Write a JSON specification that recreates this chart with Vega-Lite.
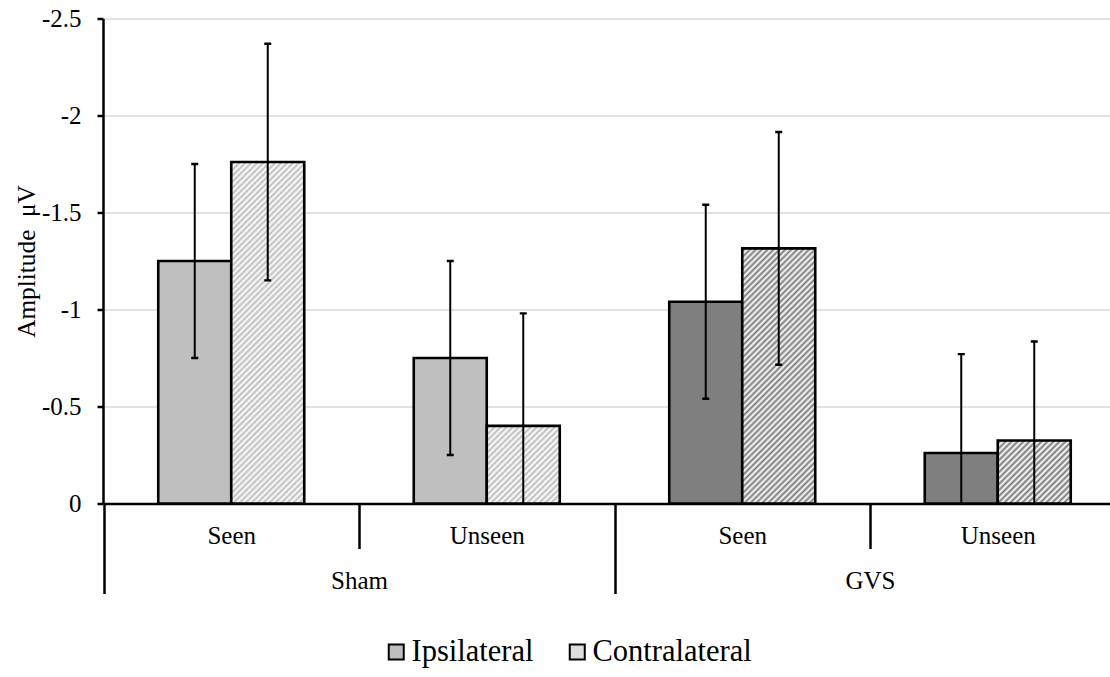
{
  "$schema": "https://vega.github.io/schema/vega-lite/v6.json",
  "width": 1007,
  "height": 485,
  "autosize": {"type": "none"},
  "padding": {"left": 103, "top": 18.5, "right": 0, "bottom": 173.5},
  "background": "white",
  "config": {
    "view": {"stroke": null},
    "font": "Liberation Serif, Times New Roman, serif",
    "axis": {"labelFont": "Liberation Serif, Times New Roman, serif", "titleFont": "Liberation Serif, Times New Roman, serif", "labelFontSize": 25, "labelColor": "black", "titleColor": "black", "titleFontWeight": "normal", "domainColor": "black", "domainWidth": 2.5, "tickColor": "black", "tickWidth": 2.5, "gridColor": "#d9d9d9", "gridWidth": 1.3},
    "axisX": {"grid": false, "labelAngle": 0, "tickBand": "extent", "tickSize": 45, "labelBaseline": "alphabetic", "labelPadding": -5.5},
    "axisY": {"tickSize": 6, "labelPadding": 16, "titleFontSize": 25.3, "titlePadding": 2}
  },
  "data": {"values": [
    {"group": "Sham", "cond": "Seen", "cell": "Sham Seen", "side": "Ipsilateral", "value": -1.25, "lo": -0.75, "hi": -1.75},
    {"group": "Sham", "cond": "Seen", "cell": "Sham Seen", "side": "Contralateral", "value": -1.76, "lo": -1.15, "hi": -2.37},
    {"group": "Sham", "cond": "Unseen", "cell": "Sham Unseen", "side": "Ipsilateral", "value": -0.75, "lo": -0.25, "hi": -1.25},
    {"group": "Sham", "cond": "Unseen", "cell": "Sham Unseen", "side": "Contralateral", "value": -0.4, "lo": 0.18, "hi": -0.98},
    {"group": "GVS", "cond": "Seen", "cell": "GVS Seen", "side": "Ipsilateral", "value": -1.04, "lo": -0.54, "hi": -1.54},
    {"group": "GVS", "cond": "Seen", "cell": "GVS Seen", "side": "Contralateral", "value": -1.315, "lo": -0.715, "hi": -1.915},
    {"group": "GVS", "cond": "Unseen", "cell": "GVS Unseen", "side": "Ipsilateral", "value": -0.26, "lo": 0.25, "hi": -0.77},
    {"group": "GVS", "cond": "Unseen", "cell": "GVS Unseen", "side": "Contralateral", "value": -0.325, "lo": 0.185, "hi": -0.835}
  ]},
  "layer": [
    {
      "encoding": {
        "x": {"field": "cell", "type": "nominal", "sort": ["Sham Seen", "Sham Unseen", "GVS Seen", "GVS Unseen"], "scale": {"range": [0.5, 1022.5], "paddingInner": 0, "paddingOuter": 0}, "axis": {"orient": "bottom", "title": null, "labelExpr": "datum.label ? (indexof(datum.label, 'Unseen') >= 0 ? 'Unseen' : 'Seen') : ''"}},
        "xOffset": {"field": "side", "type": "nominal", "sort": ["Ipsilateral", "Contralateral"], "scale": {"paddingInner": 0, "paddingOuter": 0.75}}
      },
      "layer": [
        {
          "mark": {"type": "bar", "stroke": "black", "strokeWidth": 2.6},
          "encoding": {
            "y": {"field": "value", "type": "quantitative", "title": "Amplitude\u00a0 μV", "scale": {"domain": [-2.5, 0], "reverse": true, "nice": false}, "axis": {"values": [-2.5, -2, -1.5, -1, -0.5, 0], "labelExpr": "toString(datum.value)"}},
            "fill": {
              "field": "side", "type": "nominal",
              "scale": {"domain": ["Ipsilateral", "Contralateral"], "range": ["#bfbfbf", "#dedede"]},
              "legend": {
                "orient": "none", "legendX": 278, "legendY": 618, "direction": "horizontal", "title": null,
                "symbolType": "square", "symbolSize": 225, "symbolStrokeColor": "black", "symbolStrokeWidth": 2, "symbolOpacity": 1,
                "labelFont": "Liberation Serif, Times New Roman, serif", "labelFontSize": 30.5, "labelColor": "black", "labelOffset": 0, "columnPadding": 28, "padding": 0, "labelLimit": 400,
                "encode": {"symbols": {"update": {
                  "stroke": {"value": "black"},
                  "strokeWidth": {"value": 2},
                  "fill": [
                    {"test": "datum.value === 'Contralateral'", "value": {"gradient": "linear", "x1": 0, "y1": 0, "x2": 1, "y2": 1, "stops": [{"offset":0,"color":"#fff"},{"offset":0.1,"color":"#bcbcbc"},{"offset":0.2,"color":"#fff"},{"offset":0.3,"color":"#bcbcbc"},{"offset":0.4,"color":"#fff"},{"offset":0.5,"color":"#bcbcbc"},{"offset":0.6,"color":"#fff"},{"offset":0.7,"color":"#bcbcbc"},{"offset":0.8,"color":"#fff"},{"offset":0.9,"color":"#bcbcbc"},{"offset":1,"color":"#fff"}]}},
                    {"value": "#bfbfbf"}
                  ]
                }}}
              },
              "condition": [
                {"test": "datum.side === 'Ipsilateral' && datum.group === 'GVS'", "value": "#7f7f7f"},
                {"test": "datum.cell === 'Sham Seen' && datum.side === 'Contralateral'", "value": {"gradient": "linear", "x1": 0, "y1": 0, "x2": 0.24817, "y2": 1.16075, "stops": [{"offset":0,"color":"#fff"},{"offset":0.0072,"color":"#bcbcbc"},{"offset":0.0144,"color":"#fff"},{"offset":0.0216,"color":"#bcbcbc"},{"offset":0.0288,"color":"#fff"},{"offset":0.036,"color":"#bcbcbc"},{"offset":0.0432,"color":"#fff"},{"offset":0.0504,"color":"#bcbcbc"},{"offset":0.0576,"color":"#fff"},{"offset":0.0648,"color":"#bcbcbc"},{"offset":0.072,"color":"#fff"},{"offset":0.0792,"color":"#bcbcbc"},{"offset":0.0864,"color":"#fff"},{"offset":0.0936,"color":"#bcbcbc"},{"offset":0.1008,"color":"#fff"},{"offset":0.108,"color":"#bcbcbc"},{"offset":0.1152,"color":"#fff"},{"offset":0.1224,"color":"#bcbcbc"},{"offset":0.1296,"color":"#fff"},{"offset":0.1368,"color":"#bcbcbc"},{"offset":0.144,"color":"#fff"},{"offset":0.1512,"color":"#bcbcbc"},{"offset":0.1584,"color":"#fff"},{"offset":0.1656,"color":"#bcbcbc"},{"offset":0.1728,"color":"#fff"},{"offset":0.18,"color":"#bcbcbc"},{"offset":0.1872,"color":"#fff"},{"offset":0.1944,"color":"#bcbcbc"},{"offset":0.2016,"color":"#fff"},{"offset":0.2088,"color":"#bcbcbc"},{"offset":0.216,"color":"#fff"},{"offset":0.2232,"color":"#bcbcbc"},{"offset":0.2304,"color":"#fff"},{"offset":0.2376,"color":"#bcbcbc"},{"offset":0.2448,"color":"#fff"},{"offset":0.252,"color":"#bcbcbc"},{"offset":0.2592,"color":"#fff"},{"offset":0.2664,"color":"#bcbcbc"},{"offset":0.2736,"color":"#fff"},{"offset":0.2808,"color":"#bcbcbc"},{"offset":0.288,"color":"#fff"},{"offset":0.2952,"color":"#bcbcbc"},{"offset":0.3024,"color":"#fff"},{"offset":0.3096,"color":"#bcbcbc"},{"offset":0.3168,"color":"#fff"},{"offset":0.324,"color":"#bcbcbc"},{"offset":0.3312,"color":"#fff"},{"offset":0.3384,"color":"#bcbcbc"},{"offset":0.3456,"color":"#fff"},{"offset":0.3528,"color":"#bcbcbc"},{"offset":0.36,"color":"#fff"},{"offset":0.3672,"color":"#bcbcbc"},{"offset":0.3744,"color":"#fff"},{"offset":0.3816,"color":"#bcbcbc"},{"offset":0.3888,"color":"#fff"},{"offset":0.396,"color":"#bcbcbc"},{"offset":0.4032,"color":"#fff"},{"offset":0.4104,"color":"#bcbcbc"},{"offset":0.4176,"color":"#fff"},{"offset":0.4248,"color":"#bcbcbc"},{"offset":0.432,"color":"#fff"},{"offset":0.4392,"color":"#bcbcbc"},{"offset":0.4464,"color":"#fff"},{"offset":0.4536,"color":"#bcbcbc"},{"offset":0.4608,"color":"#fff"},{"offset":0.468,"color":"#bcbcbc"},{"offset":0.4752,"color":"#fff"},{"offset":0.4824,"color":"#bcbcbc"},{"offset":0.4896,"color":"#fff"},{"offset":0.4968,"color":"#bcbcbc"},{"offset":0.504,"color":"#fff"},{"offset":0.5112,"color":"#bcbcbc"},{"offset":0.5184,"color":"#fff"},{"offset":0.5256,"color":"#bcbcbc"},{"offset":0.5328,"color":"#fff"},{"offset":0.54,"color":"#bcbcbc"},{"offset":0.5472,"color":"#fff"},{"offset":0.5544,"color":"#bcbcbc"},{"offset":0.5616,"color":"#fff"},{"offset":0.5688,"color":"#bcbcbc"},{"offset":0.576,"color":"#fff"},{"offset":0.5832,"color":"#bcbcbc"},{"offset":0.5904,"color":"#fff"},{"offset":0.5976,"color":"#bcbcbc"},{"offset":0.6048,"color":"#fff"},{"offset":0.612,"color":"#bcbcbc"},{"offset":0.6192,"color":"#fff"},{"offset":0.6264,"color":"#bcbcbc"},{"offset":0.6336,"color":"#fff"},{"offset":0.6408,"color":"#bcbcbc"},{"offset":0.648,"color":"#fff"},{"offset":0.6552,"color":"#bcbcbc"},{"offset":0.6624,"color":"#fff"},{"offset":0.6696,"color":"#bcbcbc"},{"offset":0.6768,"color":"#fff"},{"offset":0.684,"color":"#bcbcbc"},{"offset":0.6912,"color":"#fff"},{"offset":0.6984,"color":"#bcbcbc"},{"offset":0.7056,"color":"#fff"},{"offset":0.7128,"color":"#bcbcbc"},{"offset":0.72,"color":"#fff"},{"offset":0.7272,"color":"#bcbcbc"},{"offset":0.7344,"color":"#fff"},{"offset":0.7416,"color":"#bcbcbc"},{"offset":0.7488,"color":"#fff"},{"offset":0.756,"color":"#bcbcbc"},{"offset":0.7632,"color":"#fff"},{"offset":0.7704,"color":"#bcbcbc"},{"offset":0.7776,"color":"#fff"},{"offset":0.7848,"color":"#bcbcbc"},{"offset":0.792,"color":"#fff"},{"offset":0.7992,"color":"#bcbcbc"},{"offset":0.8064,"color":"#fff"},{"offset":0.8136,"color":"#bcbcbc"},{"offset":0.8208,"color":"#fff"},{"offset":0.828,"color":"#bcbcbc"},{"offset":0.8352,"color":"#fff"},{"offset":0.8424,"color":"#bcbcbc"},{"offset":0.8496,"color":"#fff"},{"offset":0.8568,"color":"#bcbcbc"},{"offset":0.864,"color":"#fff"},{"offset":0.8712,"color":"#bcbcbc"},{"offset":0.8784,"color":"#fff"},{"offset":0.8856,"color":"#bcbcbc"},{"offset":0.8928,"color":"#fff"},{"offset":0.9,"color":"#bcbcbc"},{"offset":0.9072,"color":"#fff"},{"offset":0.9144,"color":"#bcbcbc"},{"offset":0.9216,"color":"#fff"},{"offset":0.9288,"color":"#bcbcbc"},{"offset":0.936,"color":"#fff"},{"offset":0.9432,"color":"#bcbcbc"},{"offset":0.9504,"color":"#fff"},{"offset":0.9576,"color":"#bcbcbc"},{"offset":0.9648,"color":"#fff"},{"offset":0.972,"color":"#bcbcbc"},{"offset":0.9792,"color":"#fff"},{"offset":0.9864,"color":"#bcbcbc"},{"offset":0.9936,"color":"#fff"}]}},
                {"test": "datum.cell === 'Sham Unseen' && datum.side === 'Contralateral'", "value": {"gradient": "linear", "x1": 0, "y1": 0, "x2": 0.96856, "y2": 1.02958, "stops": [{"offset":0,"color":"#fff"},{"offset":0.02,"color":"#bcbcbc"},{"offset":0.04,"color":"#fff"},{"offset":0.06,"color":"#bcbcbc"},{"offset":0.08,"color":"#fff"},{"offset":0.1,"color":"#bcbcbc"},{"offset":0.12,"color":"#fff"},{"offset":0.14,"color":"#bcbcbc"},{"offset":0.16,"color":"#fff"},{"offset":0.18,"color":"#bcbcbc"},{"offset":0.2,"color":"#fff"},{"offset":0.22,"color":"#bcbcbc"},{"offset":0.24,"color":"#fff"},{"offset":0.26,"color":"#bcbcbc"},{"offset":0.28,"color":"#fff"},{"offset":0.3,"color":"#bcbcbc"},{"offset":0.32,"color":"#fff"},{"offset":0.34,"color":"#bcbcbc"},{"offset":0.36,"color":"#fff"},{"offset":0.38,"color":"#bcbcbc"},{"offset":0.4,"color":"#fff"},{"offset":0.42,"color":"#bcbcbc"},{"offset":0.44,"color":"#fff"},{"offset":0.46,"color":"#bcbcbc"},{"offset":0.48,"color":"#fff"},{"offset":0.5,"color":"#bcbcbc"},{"offset":0.52,"color":"#fff"},{"offset":0.54,"color":"#bcbcbc"},{"offset":0.56,"color":"#fff"},{"offset":0.58,"color":"#bcbcbc"},{"offset":0.6,"color":"#fff"},{"offset":0.62,"color":"#bcbcbc"},{"offset":0.64,"color":"#fff"},{"offset":0.66,"color":"#bcbcbc"},{"offset":0.68,"color":"#fff"},{"offset":0.7,"color":"#bcbcbc"},{"offset":0.72,"color":"#fff"},{"offset":0.74,"color":"#bcbcbc"},{"offset":0.76,"color":"#fff"},{"offset":0.78,"color":"#bcbcbc"},{"offset":0.8,"color":"#fff"},{"offset":0.82,"color":"#bcbcbc"},{"offset":0.84,"color":"#fff"},{"offset":0.86,"color":"#bcbcbc"},{"offset":0.88,"color":"#fff"},{"offset":0.9,"color":"#bcbcbc"},{"offset":0.92,"color":"#fff"},{"offset":0.94,"color":"#bcbcbc"},{"offset":0.96,"color":"#fff"},{"offset":0.98,"color":"#bcbcbc"},{"offset":1,"color":"#fff"}]}},
                {"test": "datum.cell === 'GVS Seen' && datum.side === 'Contralateral'", "value": {"gradient": "linear", "x1": 0, "y1": 0, "x2": 0.34018, "y2": 1.18884, "stops": [{"offset":0,"color":"#fff"},{"offset":0.009,"color":"#7a7a7a"},{"offset":0.018,"color":"#fff"},{"offset":0.027,"color":"#7a7a7a"},{"offset":0.036,"color":"#fff"},{"offset":0.045,"color":"#7a7a7a"},{"offset":0.054,"color":"#fff"},{"offset":0.063,"color":"#7a7a7a"},{"offset":0.072,"color":"#fff"},{"offset":0.081,"color":"#7a7a7a"},{"offset":0.09,"color":"#fff"},{"offset":0.099,"color":"#7a7a7a"},{"offset":0.108,"color":"#fff"},{"offset":0.117,"color":"#7a7a7a"},{"offset":0.126,"color":"#fff"},{"offset":0.135,"color":"#7a7a7a"},{"offset":0.144,"color":"#fff"},{"offset":0.153,"color":"#7a7a7a"},{"offset":0.162,"color":"#fff"},{"offset":0.171,"color":"#7a7a7a"},{"offset":0.18,"color":"#fff"},{"offset":0.189,"color":"#7a7a7a"},{"offset":0.198,"color":"#fff"},{"offset":0.207,"color":"#7a7a7a"},{"offset":0.216,"color":"#fff"},{"offset":0.225,"color":"#7a7a7a"},{"offset":0.234,"color":"#fff"},{"offset":0.243,"color":"#7a7a7a"},{"offset":0.252,"color":"#fff"},{"offset":0.261,"color":"#7a7a7a"},{"offset":0.27,"color":"#fff"},{"offset":0.279,"color":"#7a7a7a"},{"offset":0.288,"color":"#fff"},{"offset":0.297,"color":"#7a7a7a"},{"offset":0.306,"color":"#fff"},{"offset":0.315,"color":"#7a7a7a"},{"offset":0.324,"color":"#fff"},{"offset":0.333,"color":"#7a7a7a"},{"offset":0.342,"color":"#fff"},{"offset":0.351,"color":"#7a7a7a"},{"offset":0.36,"color":"#fff"},{"offset":0.369,"color":"#7a7a7a"},{"offset":0.378,"color":"#fff"},{"offset":0.387,"color":"#7a7a7a"},{"offset":0.396,"color":"#fff"},{"offset":0.405,"color":"#7a7a7a"},{"offset":0.414,"color":"#fff"},{"offset":0.423,"color":"#7a7a7a"},{"offset":0.432,"color":"#fff"},{"offset":0.441,"color":"#7a7a7a"},{"offset":0.45,"color":"#fff"},{"offset":0.459,"color":"#7a7a7a"},{"offset":0.468,"color":"#fff"},{"offset":0.477,"color":"#7a7a7a"},{"offset":0.486,"color":"#fff"},{"offset":0.495,"color":"#7a7a7a"},{"offset":0.504,"color":"#fff"},{"offset":0.513,"color":"#7a7a7a"},{"offset":0.522,"color":"#fff"},{"offset":0.531,"color":"#7a7a7a"},{"offset":0.54,"color":"#fff"},{"offset":0.549,"color":"#7a7a7a"},{"offset":0.558,"color":"#fff"},{"offset":0.567,"color":"#7a7a7a"},{"offset":0.576,"color":"#fff"},{"offset":0.585,"color":"#7a7a7a"},{"offset":0.594,"color":"#fff"},{"offset":0.603,"color":"#7a7a7a"},{"offset":0.612,"color":"#fff"},{"offset":0.621,"color":"#7a7a7a"},{"offset":0.63,"color":"#fff"},{"offset":0.639,"color":"#7a7a7a"},{"offset":0.648,"color":"#fff"},{"offset":0.657,"color":"#7a7a7a"},{"offset":0.666,"color":"#fff"},{"offset":0.675,"color":"#7a7a7a"},{"offset":0.684,"color":"#fff"},{"offset":0.693,"color":"#7a7a7a"},{"offset":0.702,"color":"#fff"},{"offset":0.711,"color":"#7a7a7a"},{"offset":0.72,"color":"#fff"},{"offset":0.729,"color":"#7a7a7a"},{"offset":0.738,"color":"#fff"},{"offset":0.747,"color":"#7a7a7a"},{"offset":0.756,"color":"#fff"},{"offset":0.765,"color":"#7a7a7a"},{"offset":0.774,"color":"#fff"},{"offset":0.783,"color":"#7a7a7a"},{"offset":0.792,"color":"#fff"},{"offset":0.801,"color":"#7a7a7a"},{"offset":0.81,"color":"#fff"},{"offset":0.819,"color":"#7a7a7a"},{"offset":0.828,"color":"#fff"},{"offset":0.837,"color":"#7a7a7a"},{"offset":0.846,"color":"#fff"},{"offset":0.855,"color":"#7a7a7a"},{"offset":0.864,"color":"#fff"},{"offset":0.873,"color":"#7a7a7a"},{"offset":0.882,"color":"#fff"},{"offset":0.891,"color":"#7a7a7a"},{"offset":0.9,"color":"#fff"},{"offset":0.909,"color":"#7a7a7a"},{"offset":0.918,"color":"#fff"},{"offset":0.927,"color":"#7a7a7a"},{"offset":0.936,"color":"#fff"},{"offset":0.945,"color":"#7a7a7a"},{"offset":0.954,"color":"#fff"},{"offset":0.963,"color":"#7a7a7a"},{"offset":0.972,"color":"#fff"},{"offset":0.981,"color":"#7a7a7a"},{"offset":0.99,"color":"#fff"},{"offset":0.999,"color":"#7a7a7a"}]}},
                {"test": "datum.cell === 'GVS Unseen' && datum.side === 'Contralateral'", "value": {"gradient": "linear", "x1": 0, "y1": 0, "x2": 1.06741, "y2": 0.92192, "stops": [{"offset":0,"color":"#fff"},{"offset":0.022,"color":"#7a7a7a"},{"offset":0.044,"color":"#fff"},{"offset":0.066,"color":"#7a7a7a"},{"offset":0.088,"color":"#fff"},{"offset":0.11,"color":"#7a7a7a"},{"offset":0.132,"color":"#fff"},{"offset":0.154,"color":"#7a7a7a"},{"offset":0.176,"color":"#fff"},{"offset":0.198,"color":"#7a7a7a"},{"offset":0.22,"color":"#fff"},{"offset":0.242,"color":"#7a7a7a"},{"offset":0.264,"color":"#fff"},{"offset":0.286,"color":"#7a7a7a"},{"offset":0.308,"color":"#fff"},{"offset":0.33,"color":"#7a7a7a"},{"offset":0.352,"color":"#fff"},{"offset":0.374,"color":"#7a7a7a"},{"offset":0.396,"color":"#fff"},{"offset":0.418,"color":"#7a7a7a"},{"offset":0.44,"color":"#fff"},{"offset":0.462,"color":"#7a7a7a"},{"offset":0.484,"color":"#fff"},{"offset":0.506,"color":"#7a7a7a"},{"offset":0.528,"color":"#fff"},{"offset":0.55,"color":"#7a7a7a"},{"offset":0.572,"color":"#fff"},{"offset":0.594,"color":"#7a7a7a"},{"offset":0.616,"color":"#fff"},{"offset":0.638,"color":"#7a7a7a"},{"offset":0.66,"color":"#fff"},{"offset":0.682,"color":"#7a7a7a"},{"offset":0.704,"color":"#fff"},{"offset":0.726,"color":"#7a7a7a"},{"offset":0.748,"color":"#fff"},{"offset":0.77,"color":"#7a7a7a"},{"offset":0.792,"color":"#fff"},{"offset":0.814,"color":"#7a7a7a"},{"offset":0.836,"color":"#fff"},{"offset":0.858,"color":"#7a7a7a"},{"offset":0.88,"color":"#fff"},{"offset":0.902,"color":"#7a7a7a"},{"offset":0.924,"color":"#fff"},{"offset":0.946,"color":"#7a7a7a"},{"offset":0.968,"color":"#fff"},{"offset":0.99,"color":"#7a7a7a"}]}}
              ]
            }
          }
        },
        {
          "mark": {"type": "rule", "color": "black", "strokeWidth": 2, "clip": true},
          "encoding": {
            "y": {"field": "lo", "type": "quantitative", "title": "Amplitude\u00a0 μV"},
            "y2": {"field": "hi"}
          }
        },
        {
          "mark": {"type": "tick", "color": "black", "size": 7, "thickness": 2.4, "opacity": 1, "clip": true},
          "encoding": {"y": {"field": "lo", "type": "quantitative", "title": "Amplitude\u00a0 μV"}}
        },
        {
          "mark": {"type": "tick", "color": "black", "size": 7, "thickness": 2.4, "opacity": 1, "clip": true},
          "encoding": {"y": {"field": "hi", "type": "quantitative", "title": "Amplitude\u00a0 μV"}}
        }
      ]
    },
    {
      "mark": {"type": "rule", "opacity": 0},
      "encoding": {
        "x": {"field": "group", "type": "nominal", "sort": ["Sham", "GVS"], "scale": {"range": [0.5, 1022.5], "paddingInner": 0, "paddingOuter": 0}, "axis": {"orient": "bottom", "offset": 45, "title": null, "domain": false}}
      }
    }
  ],
  "resolve": {"scale": {"x": "independent"}, "axis": {"x": "independent"}}
}
